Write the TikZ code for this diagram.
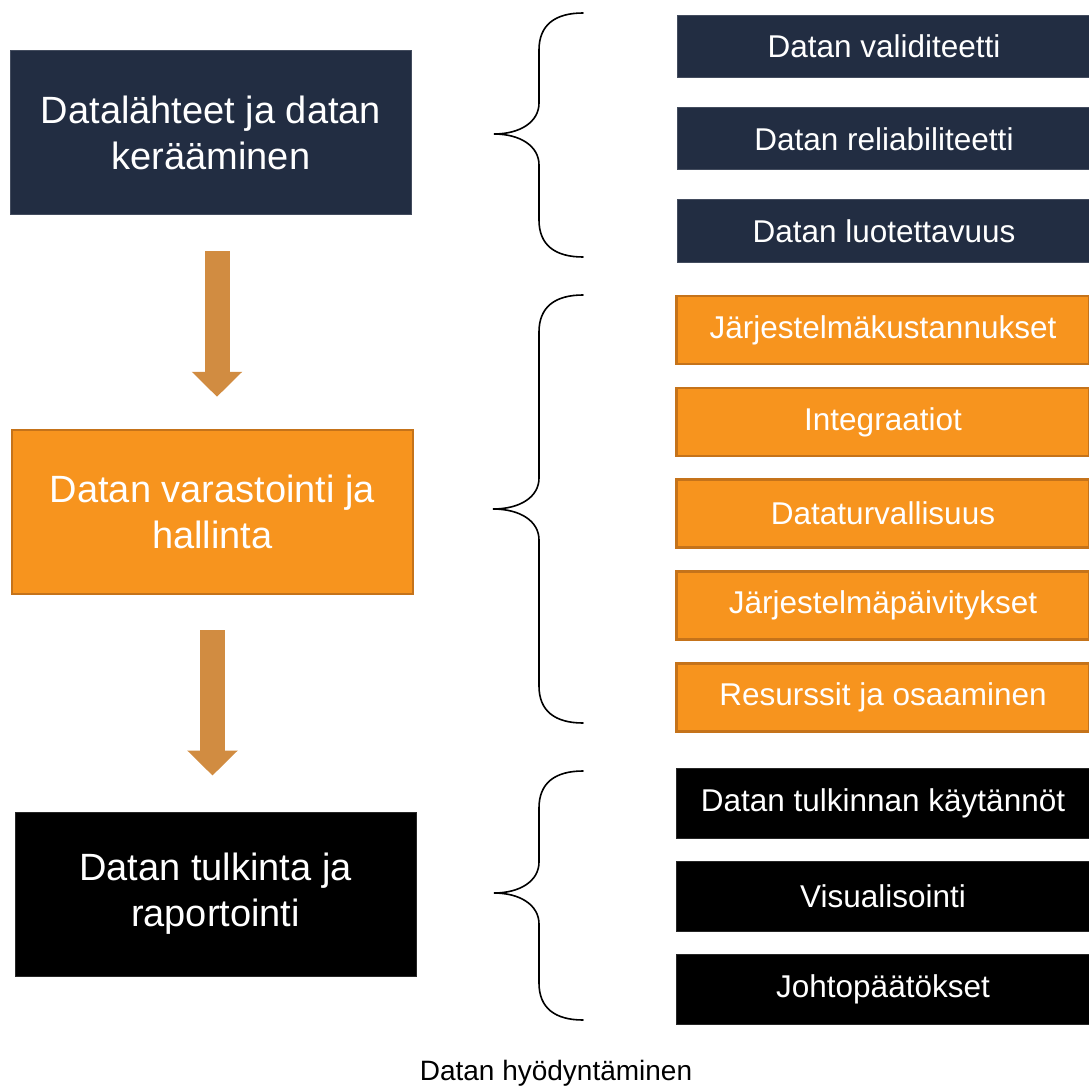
\documentclass[tikz,border=0pt]{standalone}
\usepackage{fontspec}
\setmainfont{Liberation Sans}
\usetikzlibrary{arrows.meta,positioning}
\definecolor{navy}{HTML}{222D42}
\definecolor{orng}{HTML}{F7941E}
\definecolor{orngedge}{HTML}{C5731A}
\definecolor{arrowbrown}{HTML}{D18C41}
\tikzset{
  stage/.style={minimum width=401pt, minimum height=164pt, inner sep=0pt, align=center,
    text=white, font=\fontsize{38}{46}\selectfont},
  item/.style={minimum width=413pt, inner sep=0pt, text=white, font=\fontsize{31.5}{36}\selectfont},
  navybox/.style={fill=navy, draw=navy!85!white, line width=1pt},
  orngbox/.style={fill=orng, draw=orngedge, line width=2.5pt},
  blackbox/.style={fill=black, draw=black!85!white, line width=1pt},
  flow/.style={draw=arrowbrown, line width=25pt, -{Triangle[length=25pt,width=49pt]}},
  curly/.style={line width=1.6pt, line cap=round}
}
\begin{document}
\begin{tikzpicture}[x=1pt, y=-1pt]
    \useasboundingbox[fill=white] (0,0) rectangle (1089,1086);
    % left column
    \node[stage, navybox] (keruu) at (211,132.5) {Datalähteet ja datan\\kerääminen};
    \node[stage, orngbox] (varasto) at (212.5,512) {Datan varastointi ja\\hallinta};
    \node[stage, blackbox] (tulkinta) at (215.5,894) {Datan tulkinta ja\\raportointi};
    \draw[flow, shorten <=36pt, shorten >=32pt] ([xshift=6pt]keruu.south) -- ([xshift=6pt]keruu.south |- varasto.north);
    \draw[flow, shorten <=35pt, shorten >=36pt] (varasto.south) -- (varasto.south |- tulkinta.north);
    % braces
    \draw[curly] (583,13) .. controls (555,13) and (539,25) .. (539,50) -- (539,103)
        .. controls (539,122) and (520,134) .. (494,134)
        .. controls (520,134) and (539,146) .. (539,165) -- (539,220)
        .. controls (539,245) and (555,257) .. (583,257);
    \draw[curly] (583,295) .. controls (555,295) and (539,307) .. (539,332) -- (539,478)
        .. controls (539,497) and (520,509) .. (493,509)
        .. controls (520,509) and (539,521) .. (539,540) -- (539,686)
        .. controls (539,711) and (555,723) .. (583,723);
    \draw[curly] (583,771) .. controls (555,771) and (539,783) .. (539,808) -- (539,862)
        .. controls (539,881) and (520,893) .. (494,893)
        .. controls (520,893) and (539,905) .. (539,924) -- (539,983)
        .. controls (539,1008) and (555,1020) .. (583,1020);
    % right column
    \node[item, navybox, minimum height=62pt] (validi) at (884,46.5) {Datan validiteetti};
    \node[item, navybox, minimum height=62pt] (relia) at (884,139) {Datan reliabiliteetti};
    \node[item, navybox, minimum height=62pt] (luotet) at (884,231) {Datan luotettavuus};
    \node[item, orngbox, minimum height=68pt] (kustan) at (883,330) {Järjestelmäkustannukset};
    \node[item, orngbox, minimum height=68pt] (integ) at (883,422) {Integraatiot};
    \node[item, orngbox, minimum height=68pt] (turva) at (883,513.5) {Dataturvallisuus};
    \node[item, orngbox, minimum height=68pt] (paivit) at (883,605.5) {Järjestelmäpäivitykset};
    \node[item, orngbox, minimum height=68pt] (resurssi) at (883,697.5) {Resurssit ja osaaminen};
    \node[item, blackbox, minimum height=70pt] (kaytanto) at (883,803) {Datan tulkinnan käytännöt};
    \node[item, blackbox, minimum height=70pt] (visual) at (883,896.5) {Visualisointi};
    \node[item, blackbox, minimum height=70pt] (johto) at (883,989) {Johtopäätökset};
    % caption
    \node[font=\fontsize{28}{32}\selectfont] (otsikko) at (556,1073) {Datan hyödyntäminen};
\end{tikzpicture}
\end{document}
